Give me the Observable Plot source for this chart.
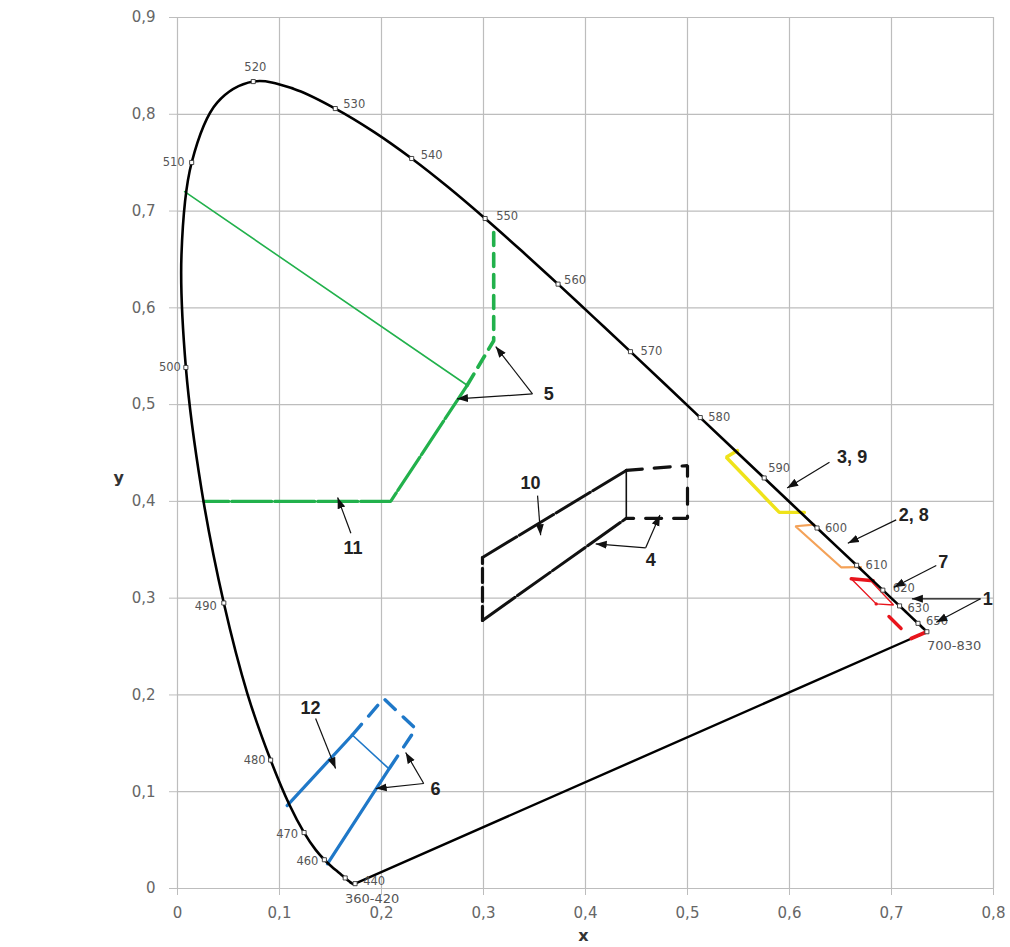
<!DOCTYPE html>
<html><head><meta charset="utf-8">
<script src="https://cdn.jsdelivr.net/npm/d3@7"></script>
<script src="https://cdn.jsdelivr.net/npm/@observablehq/plot@0.6"></script>
<style>body{margin:0;background:#fff} svg{display:block}</style>
</head><body><div id="chart"></div>
<script>
// ---------- DATA ----------
// CIE 1931 spectral locus (nm, x, y)
const locusNm = [380,385,390,395,400,405,410,415,420,425,430,435,440,445,450,455,460,465,470,475,480,485,490,495,500,505,510,515,520,525,530,535,540,545,550,555,560,565,570,575,580,585,590,595,600,605,610,615,620,625,630,635,640,645,650,655,660,665,670,675,680,685,690,695,700];
const locusX = [0.1741,0.1740,0.1738,0.1736,0.1733,0.1730,0.1726,0.1721,0.1714,0.1703,0.1689,0.1669,0.1644,0.1611,0.1566,0.1510,0.1440,0.1355,0.1241,0.1096,0.0913,0.0687,0.0454,0.0235,0.0082,0.0039,0.0139,0.0389,0.0743,0.1142,0.1547,0.1929,0.2296,0.2658,0.3016,0.3373,0.3731,0.4087,0.4441,0.4788,0.5125,0.5448,0.5752,0.6029,0.6270,0.6482,0.6658,0.6801,0.6915,0.7006,0.7079,0.7140,0.7190,0.7230,0.7260,0.7283,0.7300,0.7311,0.7320,0.7327,0.7334,0.7340,0.7344,0.7346,0.7347];
const locusY = [0.0050,0.0050,0.0049,0.0049,0.0048,0.0048,0.0048,0.0048,0.0051,0.0058,0.0069,0.0086,0.0109,0.0138,0.0177,0.0227,0.0297,0.0399,0.0578,0.0868,0.1327,0.2007,0.2950,0.4127,0.5384,0.6548,0.7502,0.8120,0.8338,0.8262,0.8059,0.7816,0.7543,0.7243,0.6923,0.6589,0.6245,0.5896,0.5547,0.5202,0.4866,0.4544,0.4242,0.3965,0.3725,0.3514,0.3340,0.3197,0.3083,0.2993,0.2920,0.2859,0.2809,0.2770,0.2740,0.2717,0.2700,0.2689,0.2680,0.2673,0.2666,0.2660,0.2656,0.2654,0.2653];

// purple line ends
const purpleNm = [380, 700];

// labelled wavelength markers
const markerNm = [380,440,460,470,480,490,500,510,520,530,540,550,560,570,580,590,600,610,620,630,650,700];
const markerText = ["360-420","440","460","470","480","490","500","510","520","530","540","550","560","570","580","590","600","610","620","630","650","700-830"];

// axis ticks
const xTicks = [0,0.1,0.2,0.3,0.4,0.5,0.6,0.7,0.8];
const xTickLabels = ["0","0,1","0,2","0,3","0,4","0,5","0,6","0,7","0,8"];
const yTicks = [0,0.1,0.2,0.3,0.4,0.5,0.6,0.7,0.8,0.9];
const yTickLabels = ["0","0,1","0,2","0,3","0,4","0,5","0,6","0,7","0,8","0,9"];

// green regions (5, 11)
const greenThinX = [0.007, 0.284];
const greenThinY = [0.720, 0.520];
const green11X = [0.284, 0.209, 0.026];
const green11Y = [0.520, 0.400, 0.400];
const green5X = [0.284, 0.310, 0.310];
const green5Y = [0.520, 0.566, 0.684];

// black regions (4, 10)
const black10UpperX = [0.299, 0.440];
const black10UpperY = [0.342, 0.432];
const black10LowerX = [0.299, 0.440];
const black10LowerY = [0.277, 0.3825];
const black10LeftX = [0.299, 0.299];
const black10LeftY = [0.277, 0.342];
const black4InnerX = [0.440, 0.440];
const black4InnerY = [0.432, 0.3825];
const black4OuterX = [0.440, 0.500, 0.500, 0.440];
const black4OuterY = [0.432, 0.437, 0.3825, 0.3825];

// blue regions (6, 12)
const blue12LeftX = [0.1075, 0.1714];
const blue12LeftY = [0.0857, 0.1586];
const blue12ThinX = [0.1714, 0.2074];
const blue12ThinY = [0.1586, 0.1236];
const blue12RightX = [0.2074, 0.147];
const blue12RightY = [0.1236, 0.0255];
const blue6X = [0.1714, 0.2021, 0.2336, 0.2074];
const blue6Y = [0.1586, 0.1963, 0.165, 0.1236];

// yellow (3, 9)
const yellowX = [0.549, 0.538, 0.590, 0.6146];
const yellowY = [0.4525, 0.4456, 0.3886, 0.3886];
// orange (2, 8)
const orangeX = [0.6241, 0.6058, 0.6506, 0.670];
const orangeY = [0.376, 0.3743, 0.3319, 0.332];
// red (1, 7)
const redTopX = [0.6605, 0.682];
const redTopY = [0.320, 0.318];
const red7X = [0.681, 0.702, 0.685, 0.6605];
const red7Y = [0.3165, 0.2929, 0.2941, 0.320];
const redDashX = [0.685, 0.7193];
const redDashY = [0.2941, 0.2583];
const redPurpleX = [0.7193, 0.7347];
const redPurpleY = [0.2583, 0.2653];

// annotation numbers
const noteText = ["5","11","10","4","12","6","3, 9","2, 8","7","1"];
const noteX = [0.364, 0.172, 0.346, 0.464, 0.1305, 0.253, 0.6614, 0.7218, 0.7507, 0.7944];
const noteY = [0.511, 0.352, 0.419, 0.339, 0.186, 0.103, 0.4452, 0.3853, 0.3373, 0.2991];

// arrows from annotation numbers
const arrowX1 = [0.348, 0.348, 0.170, 0.353, 0.459, 0.459, 0.1354, 0.2414, 0.2414, 0.6392, 0.7046, 0.7439, 0.7873, 0.7873];
const arrowY1 = [0.511, 0.511, 0.367, 0.406, 0.352, 0.352, 0.1756, 0.1085, 0.1085, 0.4404, 0.3809, 0.3337, 0.2993, 0.2993];
const arrowX2 = [0.274, 0.312, 0.157, 0.356, 0.410, 0.473, 0.155, 0.1943, 0.2237, 0.5977, 0.6572, 0.7023, 0.720, 0.7439];
const arrowY2 = [0.506, 0.560, 0.404, 0.365, 0.356, 0.386, 0.124, 0.1033, 0.1405, 0.4139, 0.3567, 0.3112, 0.2993, 0.2751];

// ---------- BUILD ----------
const pts = (xs, ys) => xs.map((x, i) => ({x, y: ys[i]}));
const locus = locusNm.map((nm, i) => ({nm, x: locusX[i], y: locusY[i]}));
const byNm = new Map(locus.map(d => [d.nm, d]));
const purple = purpleNm.map(nm => byNm.get(nm));
const markers = markerNm.map((nm, i) => ({...byNm.get(nm), label: markerText[i]}));
const arrows = arrowX1.map((x1, i) => ({x1, y1: arrowY1[i], x2: arrowX2[i], y2: arrowY2[i]}));
const notes = noteText.map((t, i) => ({t, x: noteX[i], y: noteY[i]}));

const GREEN = "#22b14c", BLUE = "#1f78c8", YELLOW = "#efe31a", ORANGE = "#f4a258", RED = "#e8141c";
const FONT = "DejaVu Sans";

const seg = (data, stroke, strokeWidth, dash, extra = {}) =>
  Plot.line(data, {x: "x", y: "y", stroke, strokeWidth, strokeDasharray: dash, strokeLinejoin: "miter", ...extra});

// label placement (style)
const place = {
  "360-420": ["middle", 17, 15, 13], "440": ["start", 18, 3, 11.5], "460": ["end", -6, 2, 11.5],
  "470": ["end", -6, 2, 11.5], "480": ["end", -5, 0, 11.5], "490": ["end", -7, 3, 11.5],
  "500": ["end", -5, 0, 11.5], "510": ["end", -7, 0, 11.5], "520": ["middle", 2, -14, 11.5],
  "530": ["start", 8, -4, 11.5], "540": ["start", 9, -3, 11.5], "550": ["start", 11, -2, 11.5],
  "560": ["start", 6, -4, 11.5], "570": ["start", 10, 0, 11.5], "580": ["start", 8, 0, 11.5],
  "590": ["start", 4, -10, 11.5], "600": ["start", 8, 0, 11.5], "610": ["start", 9, 0, 11.5],
  "620": ["start", 10, -2, 11.5], "630": ["start", 8, 2, 11.5], "650": ["start", 8, -2, 11.5],
  "700-830": ["start", 0, 14, 13]
};
const labelMarks = markers.map(m => {
  const [anchor, dx, dy, fs] = place[m.label];
  return Plot.text([m], {x: "x", y: "y", text: "label", textAnchor: anchor, dx, dy, fontSize: fs, fill: "#555", fontFamily: FONT});
});

const svg = Plot.plot({
  width: 1010, height: 947,
  marginLeft: 177, marginRight: 17, marginTop: 17, marginBottom: 59,
  style: {fontFamily: FONT, background: "#fff"},
  x: {domain: [0, 0.8]},
  y: {domain: [0, 0.9]},
  marks: [
    Plot.gridX(xTicks, {stroke: "#bdbdbd", strokeOpacity: 1, strokeWidth: 1.2}),
    Plot.gridY(yTicks, {stroke: "#bdbdbd", strokeOpacity: 1, strokeWidth: 1.2}),
    Plot.axisX({ticks: xTicks, tickFormat: (d, i) => xTickLabels[i], tickSize: 7, tickPadding: 12, stroke: "#bdbdbd", fill: "#666", fontSize: 15, label: null}),
    Plot.axisY({ticks: yTicks, tickFormat: (d, i) => yTickLabels[i], tickSize: 8, tickPadding: 14, stroke: "#bdbdbd", fill: "#666", fontSize: 15, label: null}),
    Plot.text(["x"], {frameAnchor: "bottom", text: d => d, dx: -2, dy: 52, fontWeight: "bold", fontSize: 16, fill: "#333"}),
    Plot.text(["y"], {frameAnchor: "left", text: d => d, dx: -64, dy: 25, fontWeight: "bold", fontSize: 16, fill: "#333"}),

    // green
    seg(pts(greenThinX, greenThinY), GREEN, 1.6),
    seg(pts(green11X, green11Y), GREEN, 3.2, "40,3"),
    seg(pts(green5X, green5Y), GREEN, 3.6, "13,8"),
    // black
    seg(pts(black10UpperX, black10UpperY), "#111", 3, "40,3"),
    seg(pts(black10LowerX, black10LowerY), "#111", 3, "40,3"),
    seg(pts(black10LeftX, black10LeftY), "#111", 3.2, "14,5"),
    seg(pts(black4InnerX, black4InnerY), "#111", 1.6),
    seg(pts(black4OuterX, black4OuterY), "#111", 3.2, "16,12"),
    // blue
    seg(pts(blue12LeftX, blue12LeftY), BLUE, 3.2),
    seg(pts(blue12RightX, blue12RightY), BLUE, 3.2),
    seg(pts(blue12ThinX, blue12ThinY), BLUE, 1.6),
    seg(pts(blue6X, blue6Y), BLUE, 3.4, "14,11"),
    // yellow / orange / red
    seg(pts(yellowX, yellowY), YELLOW, 3.4),
    seg(pts(orangeX, orangeY), ORANGE, 2.2),
    seg(pts(red7X, red7Y), RED, 1.4),
    seg(pts(redTopX, redTopY), RED, 3.4),
    seg(pts(redDashX, redDashY), RED, 3.4, "0,18,17,100"),

    // spectral locus and purple line
    Plot.line(locus, {x: "x", y: "y", stroke: "#000", strokeWidth: 2.6, curve: "catmull-rom"}),
    Plot.line(purple, {x: "x", y: "y", stroke: "#000", strokeWidth: 2.4}),
    seg(pts(redPurpleX, redPurpleY), RED, 3.6),
    Plot.dot(markers, {x: "x", y: "y", symbol: "square", r: 2.3, fill: "#fff", stroke: "#333", strokeWidth: 0.9}),
    ...labelMarks,

    // annotations
    Plot.link(arrows, {x1: "x1", y1: "y1", x2: "x2", y2: "y2", stroke: "#111", strokeWidth: 1.2, markerEnd: "arrow"}),
    Plot.text(notes, {x: "x", y: "y", text: "t", fontSize: 18, fontWeight: "bold", fill: "#222", fontFamily: "Liberation Sans"})
  ]
});

// filled arrowheads
d3.select(svg).selectAll("marker").each(function () {
  const m = d3.select(this);
  m.attr("viewBox", "-11 -5 12 10").attr("markerWidth", 12).attr("markerHeight", 10)
   .attr("markerUnits", "userSpaceOnUse").attr("refX", 0).attr("refY", 0)
   .attr("fill", "#111").attr("stroke", "none");
  m.selectAll("*").remove();
  m.append("path").attr("d", "M-11,-4L0,0L-11,4Z");
});

document.getElementById("chart").appendChild(svg);
</script>
</body></html>
